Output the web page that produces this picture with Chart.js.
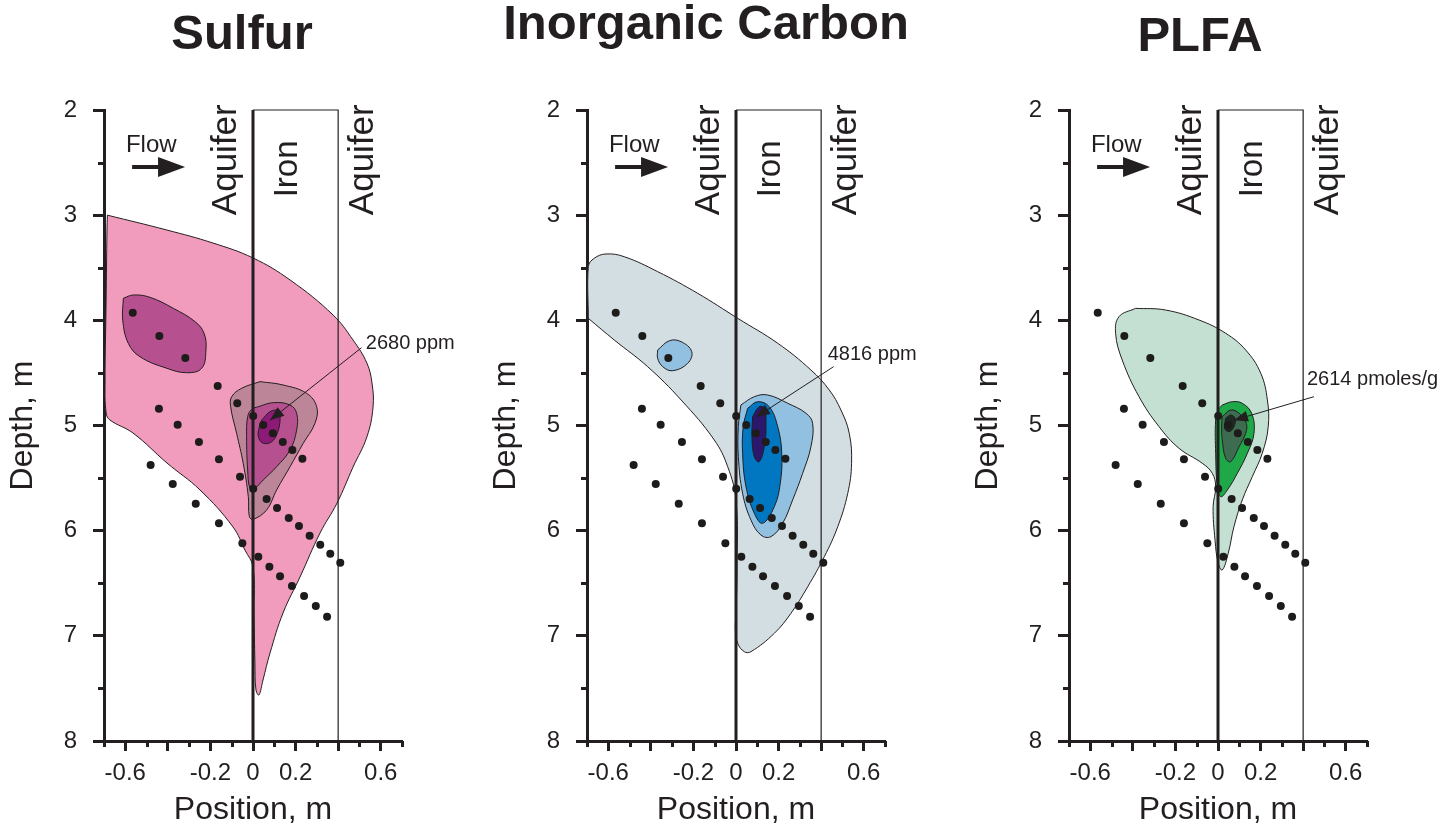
<!DOCTYPE html>
<html>
<head>
<meta charset="utf-8">
<script src="https://cdn.jsdelivr.net/npm/chart.js@4/dist/chart.umd.min.js"></script>
<style>
  html, body { margin: 0; padding: 0; background: #fff; }
  body { width: 1450px; height: 829px; position: relative; overflow: hidden;
         font-family: "Liberation Sans", Arial, Helvetica, sans-serif; color: #231f20; }
  .panel { position: absolute; top: 0; width: 483px; height: 829px; }
  .title { position: absolute; font-weight: bold; font-size: 49px; line-height: 49px;
           white-space: nowrap; transform: translateX(-50%); }
</style>
</head>
<body>
<div class="title" id="t0" style="left:242px; top:8px"></div>
<div class="title" id="t1" style="left:706px; top:-2px"></div>
<div class="title" id="t2" style="left:1200px; top:10px"></div>
<div class="panel" style="left:0px"><canvas id="c0" width="483" height="829"></canvas></div>
<div class="panel" style="left:483px"><canvas id="c1" width="483" height="829"></canvas></div>
<div class="panel" style="left:965px"><canvas id="c2" width="483" height="829"></canvas></div>
<script>
// axes
const depthTicks = [2, 3, 4, 5, 6, 7, 8];
const depthMinor = [2.5, 3.5, 4.5, 5.5, 6.5, 7.5];
const positionTicks = [-0.6, -0.4, -0.2, 0, 0.2, 0.4, 0.6];
const positionLabels = ['-0.6', '', '-0.2', '0', '0.2', '', '0.6'];
const positionMinor = [-0.7, -0.5, -0.3, -0.1, 0.1, 0.3, 0.5, 0.7];

const panelTitles = ['Sulfur', 'Inorganic Carbon', 'PLFA'];
const peakValues = [2680, 4816, 2614];
const peakUnits = ['ppm', 'ppm', 'pmoles/g'];
const peakAt = [[0.08, 4.95], [0.094, 4.92], [0.075, 4.95]];

// iron wall between 0 and 0.4 m
const wallFace = [[0, 2], [0, 8]];
const wallBox = [[0, 2], [0.4, 2], [0.4, 8]];

// sampling ports, three inclined rows (position, depth)
const portsRow1 = [[-0.565, 3.927], [-0.44, 4.149], [-0.318, 4.358], [-0.166, 4.624], [-0.074, 4.789],
  [0.001, 4.91], [0.048, 4.996], [0.093, 5.074], [0.14, 5.157], [0.185, 5.233], [0.232, 5.316]];
const portsRow2 = [[-0.442, 4.84], [-0.354, 4.992], [-0.254, 5.157], [-0.16, 5.321], [-0.061, 5.487],
  [0.001, 5.601], [0.064, 5.699], [0.113, 5.784], [0.168, 5.879], [0.216, 5.956], [0.266, 6.048],
  [0.316, 6.133], [0.363, 6.219], [0.41, 6.304]];
const portsRow3 = [[-0.481, 5.376], [-0.377, 5.556], [-0.269, 5.744], [-0.16, 5.93], [-0.05, 6.12],
  [0.025, 6.247], [0.077, 6.342], [0.127, 6.434], [0.183, 6.526], [0.24, 6.621], [0.295, 6.716],
  [0.348, 6.818]];

// sulfur contours, outermost first
const sulfurOuter = [[-0.684, 3.0], [-0.405, 3.141], [-0.188, 3.265], [0, 3.407], [0.174, 3.616],
  [0.376, 3.949], [0.47, 4.187], [0.535, 4.406], [0.559, 4.596], [0.564, 4.824], [0.535, 5.109],
  [0.47, 5.395], [0.395, 5.737], [0.315, 6.022], [0.221, 6.44], [0.141, 6.783], [0.08, 7.163],
  [0.047, 7.42], [0.028, 7.562], [0.014, 7.515], [0.009, 7.258], [0.005, 6.783], [0, 6.345],
  [-0.038, 6.184], [-0.094, 5.965], [-0.249, 5.613], [-0.404, 5.357], [-0.564, 5.071],
  [-0.672, 4.948], [-0.69, 4.881], [-0.695, 4.567], [-0.69, 3.807], [-0.686, 3.141]];
const sulfurMid = [[0.033, 4.583], [0.142, 4.615], [0.252, 4.694], [0.299, 4.821], [0.291, 4.979],
  [0.236, 5.169], [0.174, 5.392], [0.111, 5.613], [0.064, 5.803], [0.001, 5.892], [-0.017, 5.867],
  [-0.022, 5.677], [-0.046, 5.359], [-0.077, 5.074], [-0.105, 4.821], [-0.1, 4.726], [-0.053, 4.646]];
const sulfurBlob = [[-0.609, 3.79], [-0.562, 3.759], [-0.484, 3.781], [-0.374, 3.886], [-0.272, 4.013],
  [-0.23, 4.123], [-0.221, 4.282], [-0.241, 4.456], [-0.311, 4.498], [-0.405, 4.456], [-0.531, 4.346],
  [-0.586, 4.218], [-0.612, 3.997]];
const sulfurInner = [[0.025, 4.821], [0.095, 4.783], [0.174, 4.805], [0.205, 4.884], [0.205, 5.043],
  [0.174, 5.233], [0.111, 5.392], [0.048, 5.518], [0.009, 5.597], [-0.014, 5.597], [-0.025, 5.423],
  [-0.03, 5.106], [-0.025, 4.916], [-0.006, 4.846]];
const sulfurCore = [[0.041, 4.948], [0.08, 4.869], [0.119, 4.859], [0.127, 4.948], [0.114, 5.074],
  [0.088, 5.154], [0.048, 5.169], [0.025, 5.106], [0.03, 5.011]];

// inorganic carbon contours
const carbonOuter = [[-0.694, 3.981], [-0.694, 3.49], [-0.666, 3.41], [-0.611, 3.369], [-0.525, 3.395],
  [-0.368, 3.537], [-0.18, 3.743], [0.008, 3.981], [0.196, 4.218], [0.352, 4.472], [0.438, 4.662],
  [0.493, 4.853], [0.532, 5.074], [0.543, 5.359], [0.525, 5.645], [0.478, 5.962], [0.415, 6.247],
  [0.337, 6.533], [0.258, 6.786], [0.18, 6.976], [0.07, 7.151], [0.039, 7.151], [0.008, 7.071],
  [-0.003, 6.944], [0, 6.786], [0.005, 6.342], [0, 5.708], [-0.039, 5.392], [-0.102, 5.138],
  [-0.258, 4.757], [-0.415, 4.441], [-0.572, 4.187]];
const carbonMid = [[0.023, 4.805], [0.086, 4.726], [0.149, 4.71], [0.243, 4.789], [0.329, 4.884],
  [0.36, 4.979], [0.352, 5.202], [0.313, 5.455], [0.266, 5.708], [0.219, 5.93], [0.164, 6.057],
  [0.117, 6.041], [0.07, 5.898], [0.031, 5.645], [0.011, 5.297], [0.011, 5.011]];
const carbonBlob = [[-0.368, 4.282], [-0.313, 4.194], [-0.258, 4.203], [-0.208, 4.298], [-0.227, 4.409],
  [-0.297, 4.479], [-0.344, 4.441], [-0.368, 4.361]];
const carbonInner = [[0.055, 4.836], [0.102, 4.774], [0.156, 4.821], [0.196, 5.011], [0.215, 5.264],
  [0.208, 5.55], [0.18, 5.772], [0.125, 5.93], [0.086, 5.835], [0.047, 5.582], [0.031, 5.264],
  [0.034, 5.011]];
const carbonCore = [[0.078, 4.916], [0.109, 4.821], [0.133, 4.836], [0.141, 5.011], [0.133, 5.202],
  [0.109, 5.344], [0.086, 5.297], [0.075, 5.106]];

// PLFA contours
const plfaOuter = [[-0.387, 3.886], [-0.246, 3.902], [-0.089, 3.997], [0.036, 4.123], [0.13, 4.282],
  [0.201, 4.504], [0.232, 4.757], [0.236, 5.011], [0.208, 5.264], [0.161, 5.487], [0.114, 5.708],
  [0.075, 5.962], [0.048, 6.215], [0.02, 6.374], [0.001, 6.31], [-0.014, 6.089], [-0.023, 5.772],
  [-0.011, 5.582], [-0.027, 5.454], [-0.074, 5.359], [-0.183, 5.217], [-0.277, 5.011],
  [-0.371, 4.726], [-0.45, 4.377], [-0.481, 4.123], [-0.465, 3.965]];
const plfaMid = [[0.02, 4.805], [0.067, 4.774], [0.114, 4.789], [0.158, 4.884], [0.169, 5.074],
  [0.138, 5.264], [0.091, 5.454], [0.044, 5.613], [0.013, 5.677], [-0.003, 5.582], [-0.011, 5.264],
  [-0.011, 4.948], [0.001, 4.853]];
const plfaInner = [[0.02, 4.916], [0.06, 4.853], [0.099, 4.884], [0.133, 4.979], [0.13, 5.074],
  [0.099, 5.202], [0.06, 5.344], [0.036, 5.312], [0.02, 5.138], [0.017, 5.011]];
const plfaCore = [[0.036, 4.932], [0.06, 4.9], [0.08, 4.932], [0.075, 5.011], [0.052, 5.059],
  [0.031, 5.027]];

const ink = '#231f20';
const fontFamily = '"Liberation Sans", Arial, Helvetica, sans-serif';
Chart.defaults.font.family = fontFamily;
Chart.defaults.color = ink;

const toXY = pts => pts.map(([x, y]) => ({ x, y }));

function contour(pts, color, order) {
  const data = toXY(pts);
  data.push({ ...data[0] });
  return {
    data, order, showLine: true, fill: 'shape', tension: 0.4,
    backgroundColor: color, borderColor: ink, borderWidth: 1, pointRadius: 0
  };
}

function wallLine(pts, width) {
  return {
    data: toXY(pts), order: 1, showLine: true, fill: false, clip: false,
    borderColor: ink, borderWidth: width, pointRadius: 0
  };
}

const ports = toXY([...portsRow1, ...portsRow2, ...portsRow3]);

// leader line, arrow head and label placement for each panel's peak
const noteLayout = [
  { elbow: [0.51, 4.26], label: [0.53, 4.22] },
  { elbow: [0.459, 4.44], label: [0.431, 4.32] },
  { elbow: [0.451, 4.726], label: [0.418, 4.567] }
];

function vertText(ctx, str, px, py, size, align) {
  ctx.save();
  ctx.translate(px, py);
  ctx.rotate(-Math.PI / 2);
  ctx.font = size + 'px ' + fontFamily;
  ctx.textAlign = align;
  ctx.textBaseline = 'alphabetic';
  ctx.fillText(str, 0, 0);
  ctx.restore();
}

function overlay(i) {
  return {
    id: 'overlay',
    afterDatasetsDraw(chart) {
      const { ctx, scales: { x, y } } = chart;
      const px = v => x.getPixelForValue(v);
      const py = v => y.getPixelForValue(v);
      ctx.save();
      ctx.fillStyle = ink;
      ctx.strokeStyle = ink;

      // flow direction
      ctx.font = '24px ' + fontFamily;
      ctx.textBaseline = 'alphabetic';
      ctx.fillText('Flow', px(-0.597), py(2.4));
      const ay = py(2.542);
      ctx.lineWidth = 4;
      ctx.beginPath();
      ctx.moveTo(px(-0.568), ay);
      ctx.lineTo(px(-0.43), ay);
      ctx.stroke();
      ctx.beginPath();
      ctx.moveTo(px(-0.319), ay);
      ctx.lineTo(px(-0.446), ay - 10);
      ctx.lineTo(px(-0.446), ay + 10);
      ctx.closePath();
      ctx.fill();

      // zone labels
      vertText(ctx, 'Aquifer', px(-0.08), py(3.0), 35, 'left');
      vertText(ctx, 'Iron', px(0.207), py(2.56), 33, 'center');
      vertText(ctx, 'Aquifer', px(0.562), py(3.0), 35, 'left');

      // peak annotation
      const note = noteLayout[i];
      const tx = px(peakAt[i][0]), ty = py(peakAt[i][1]);
      const ex = px(note.elbow[0]), ey = py(note.elbow[1]);
      ctx.lineWidth = 1;
      ctx.beginPath();
      ctx.moveTo(ex, ey);
      ctx.lineTo(tx, ty);
      ctx.stroke();
      const len = Math.hypot(ex - tx, ey - ty);
      const ux = (ex - tx) / len, uy = (ey - ty) / len;
      ctx.beginPath();
      ctx.moveTo(tx, ty);
      ctx.lineTo(tx + ux * 14 - uy * 5.5, ty + uy * 14 + ux * 5.5);
      ctx.lineTo(tx + ux * 14 + uy * 5.5, ty + uy * 14 - ux * 5.5);
      ctx.closePath();
      ctx.fill();
      ctx.font = '20px ' + fontFamily;
      ctx.textBaseline = 'middle';
      ctx.fillText(peakValues[i] + ' ' + peakUnits[i], px(note.label[0]), py(note.label[1]));
      ctx.restore();
    },
    afterDraw(chart) {
      // half-step ticks on both axes
      const { ctx, chartArea, scales: { x, y } } = chart;
      ctx.save();
      ctx.strokeStyle = ink;
      ctx.lineWidth = 3;
      ctx.beginPath();
      depthMinor.forEach(v => {
        const p = Math.round(y.getPixelForValue(v)) + 0.5;
        ctx.moveTo(chartArea.left - 6, p);
        ctx.lineTo(chartArea.left, p);
      });
      positionMinor.forEach(v => {
        const p = Math.round(x.getPixelForValue(v)) + 0.5;
        ctx.moveTo(p, chartArea.bottom);
        ctx.lineTo(p, chartArea.bottom + 6);
      });
      ctx.stroke();
      ctx.restore();
    }
  };
}

const panelContours = [
  [[sulfurCore, '#8e1a78'], [sulfurInner, '#b6508f'], [sulfurBlob, '#b6508f'],
   [sulfurMid, '#bc8698'], [sulfurOuter, '#f19bbd']],
  [[carbonCore, '#2b186c'], [carbonInner, '#0077c0'], [carbonBlob, '#91c0e1'],
   [carbonMid, '#91c0e1'], [carbonOuter, '#d3dee3']],
  [[plfaCore, '#1b2b21'], [plfaInner, '#3e6c50'], [plfaMid, '#1ea848'],
   [plfaOuter, '#c4e0d3']]
];

function buildPanel(i) {
  document.getElementById('t' + i).textContent = panelTitles[i];
  const datasets = [
    { data: ports, order: 0, showLine: false, pointRadius: 4,
      pointBackgroundColor: '#1e1b1b', pointBorderWidth: 0 },
    wallLine(wallFace, 3),
    wallLine(wallBox, 1.2)
  ];
  panelContours[i].forEach(([pts, color], k) => datasets.push(contour(pts, color, 2 + k)));

  new Chart(document.getElementById('c' + i), {
    type: 'scatter',
    data: { datasets },
    plugins: [overlay(i)],
    options: {
      responsive: false,
      animation: false,
      events: [],
      layout: { padding: { left: 0, right: 81, top: 110, bottom: 0 } },
      plugins: { legend: { display: false }, tooltip: { enabled: false } },
      scales: {
        x: {
          type: 'linear', position: 'bottom', min: -0.7, max: 0.7,
          afterFit: s => { s.height = 88; },
          afterBuildTicks: s => { s.ticks = positionTicks.map(value => ({ value })); },
          border: { color: ink, width: 3 },
          grid: { drawOnChartArea: false, tickLength: 10, tickWidth: 3, tickColor: ink },
          ticks: { color: ink, font: { size: 24 }, padding: 8, maxRotation: 0, autoSkip: false,
                   callback: (v, idx) => positionLabels[idx] },
          title: { display: true, text: 'Position, m', color: ink, font: { size: 32 },
                   padding: { top: 0, bottom: 0 } }
        },
        y: {
          type: 'linear', position: 'left', min: 2, max: 8, reverse: true,
          afterFit: s => { s.width = 104; },
          afterBuildTicks: s => { s.ticks = depthTicks.map(value => ({ value })); },
          border: { color: ink, width: 3 },
          grid: { drawOnChartArea: false, tickLength: 11, tickWidth: 3, tickColor: ink },
          ticks: { color: ink, font: { size: 24 }, padding: 16,
                   callback: v => String(v) },
          title: { display: true, text: 'Depth, m', color: ink, font: { size: 32 },
                   padding: { top: 4, bottom: 0 } }
        }
      }
    }
  });
}

[0, 1, 2].forEach(buildPanel);
</script>
</body>
</html>
